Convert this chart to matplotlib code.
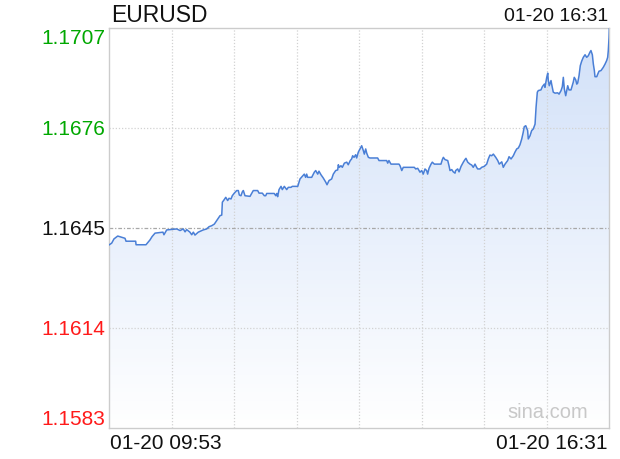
import matplotlib
matplotlib.use("Agg")
import matplotlib.pyplot as plt
import numpy as np
from matplotlib.ticker import FixedLocator

plt.rcParams['font.family'] = ['Liberation Sans', 'DejaVu Sans']

symbol = "EURUSD"
start_label = "01-20 09:53"
end_label = "01-20 16:31"
prev_close = 1.1645
y_ticks = [1.1583, 1.1614, 1.1645, 1.1676, 1.1707]
y_tick_labels = ["1.1583", "1.1614", "1.1645", "1.1676", "1.1707"]
total_minutes = 398

# minutes after 09:53
t_min = [
    0, 1.9, 3.7, 6.7, 9.3, 12.5, 13.3, 21.0, 21.3, 29.2, 32.4, 34.0, 36.4, 42.7, 43.5, 45.7,
    53.7, 56.3, 58.9, 60.3, 61.6, 64.2, 65.6, 66.9, 68.2, 70.8, 74.8, 77.5, 79.4, 81.5, 83.6,
    85.5, 88.1, 89.5, 90.0, 91.5, 92.7, 94.2, 95.3, 96.9, 97.9, 99.5, 101.4, 102.7, 103.5,
    104.8, 105.9, 106.7, 108.0, 112.0, 113.4, 114.6, 118.1, 119.2, 121.8, 123.4, 124.5, 125.3,
    131.3, 132.5, 133.3, 134.0, 135.1, 136.7, 137.7, 139.3, 141.2, 142.5, 144.6, 145.7, 150.0,
    151.8, 153.6, 155.2, 156.3, 157.1, 157.9, 161.1, 163.2, 164.3, 165.9, 166.9, 168.5, 170.3,
    172.3, 173.3, 174.9, 177.0, 178.3, 180.2, 181.8, 182.3, 183.1, 184.4, 185.5, 187.1, 189.0,
    190.2, 191.8, 192.9, 193.7, 194.8, 196.1, 196.9, 198.2, 199.6, 200.9, 202.2, 203.0, 204.1,
    204.9, 206.2, 207.5, 213.6, 214.7, 220.8, 221.6, 222.6, 224.2, 230.6, 231.4, 231.9, 232.8,
    234.0, 242.8, 243.9, 245.5, 247.3, 248.7, 249.9, 251.3, 252.6, 253.4, 254.5, 256.1, 257.1,
    258.7, 264.0, 265.1, 265.9, 267.2, 269.4, 270.4, 271.2, 272.6, 273.8, 275.2, 275.7, 277.3,
    278.4, 280.0, 281.8, 283.1, 283.9, 285.3, 287.1, 288.5, 289.7, 291.1, 292.4, 293.2, 295.1,
    296.4, 298.5, 300.4, 301.7, 303.0, 304.4, 305.7, 307.6, 309.2, 310.4, 312.4, 313.6, 315.0,
    317.1, 318.2, 319.8, 321.6, 322.9, 324.3, 325.6, 326.9, 328.3, 329.5, 330.3, 331.5, 333.0,
    333.5, 334.9, 336.2, 337.5, 338.9, 339.7, 340.7, 341.5, 343.6, 344.7, 346.3, 346.8, 348.2,
    349.0, 349.4, 350.2, 351.6, 352.1, 353.4, 354.8, 356.9, 358.0, 359.6, 360.6, 361.4, 362.2,
    363.3, 364.1, 364.9, 365.9, 367.5, 368.5, 369.3, 370.1, 371.3, 372.1, 372.8, 373.9, 374.9,
    376.0, 377.3, 378.7, 380.0, 381.3, 382.6, 383.4, 384.5, 385.3, 386.1, 386.6, 388.0, 388.8,
    389.8, 391.4, 393.2, 394.6, 395.9, 396.7, 397.2, 397.8, 398.0,
]
price = [
    1.16399, 1.16404, 1.16417, 1.16426, 1.16423, 1.16419, 1.16410, 1.16410, 1.16399, 1.16399,
    1.16414, 1.16424, 1.16435, 1.16438, 1.16430, 1.16445, 1.16448, 1.16443, 1.16448, 1.16439,
    1.16446, 1.16438, 1.16430, 1.16438, 1.16429, 1.16438, 1.16445, 1.16448, 1.16455, 1.16458,
    1.16463, 1.16474, 1.16489, 1.16491, 1.16531, 1.16539, 1.16546, 1.16536, 1.16543, 1.16541,
    1.16551, 1.16559, 1.16567, 1.16567, 1.16553, 1.16551, 1.16563, 1.16567, 1.16551, 1.16549,
    1.16559, 1.16567, 1.16567, 1.16559, 1.16559, 1.16551, 1.16551, 1.16558, 1.16558, 1.16551,
    1.16558, 1.16548, 1.16570, 1.16580, 1.16570, 1.16580, 1.16570, 1.16577, 1.16577, 1.16580,
    1.16580, 1.16603, 1.16611, 1.16618, 1.16608, 1.16618, 1.16608, 1.16608, 1.16624, 1.16629,
    1.16618, 1.16627, 1.16616, 1.16606, 1.16593, 1.16585, 1.16598, 1.16603, 1.16618, 1.16629,
    1.16631, 1.16647, 1.16639, 1.16644, 1.16639, 1.16652, 1.16655, 1.16647, 1.16660, 1.16665,
    1.16675, 1.16670, 1.16678, 1.16668, 1.16686, 1.16696, 1.16706, 1.16691, 1.16680, 1.16696,
    1.16683, 1.16670, 1.16668, 1.16668, 1.16660, 1.16660, 1.16652, 1.16660, 1.16649, 1.16649,
    1.16644, 1.16639, 1.16629, 1.16639, 1.16639, 1.16634, 1.16636, 1.16624, 1.16629, 1.16618,
    1.16634, 1.16629, 1.16618, 1.16636, 1.16649, 1.16655, 1.16649, 1.16649, 1.16663, 1.16670,
    1.16663, 1.16660, 1.16644, 1.16629, 1.16632, 1.16625, 1.16621, 1.16629, 1.16634, 1.16625,
    1.16642, 1.16655, 1.16663, 1.16667, 1.16655, 1.16649, 1.16646, 1.16639, 1.16649, 1.16639,
    1.16634, 1.16634, 1.16639, 1.16642, 1.16649, 1.16665, 1.16677, 1.16675, 1.16680, 1.16670,
    1.16660, 1.16649, 1.16656, 1.16639, 1.16649, 1.16660, 1.16672, 1.16665, 1.16675, 1.16686,
    1.16696, 1.16699, 1.16709, 1.16727, 1.16748, 1.16765, 1.16768, 1.16753, 1.16727, 1.16737,
    1.16753, 1.16758, 1.16773, 1.16825, 1.16872, 1.16877, 1.16879, 1.16889, 1.16897, 1.16887,
    1.16918, 1.16931, 1.16910, 1.16892, 1.16908, 1.16897, 1.16872, 1.16869, 1.16870, 1.16866,
    1.16877, 1.16889, 1.16918, 1.16882, 1.16861, 1.16877, 1.16892, 1.16879, 1.16879, 1.16892,
    1.16903, 1.16918, 1.16910, 1.16897, 1.16900, 1.16923, 1.16954, 1.16968, 1.16980, 1.16988,
    1.16980, 1.16985, 1.16996, 1.17001, 1.16988, 1.16959, 1.16939, 1.16920, 1.16920, 1.16928,
    1.16937, 1.16939, 1.16949, 1.16959, 1.16970, 1.16980, 1.17001, 1.17042, 1.17068,
]

W, H = 620, 460
fig = plt.figure(figsize=(W / 100, H / 100), dpi=100)
ax = fig.add_axes([109.3 / W, 1 - 429.3 / H, 500 / W, 400 / H])
ymin, ymax = y_ticks[0], y_ticks[-1]
ax.set_xlim(0, total_minutes)
ax.set_ylim(ymin, ymax)

# gradient fill under line
grad = np.linspace(0, 1, 256).reshape(-1, 1)
top_c = np.array([0.82, 0.88, 0.975])
bot_c = np.array([1.0, 1.0, 1.0])
img = top_c[None, None, :] * (1 - grad[:, :, None]) + bot_c[None, None, :] * grad[:, :, None]
im = ax.imshow(img, extent=[0, total_minutes, ymin, ymax], origin='upper', aspect='auto', zorder=1)
poly = ax.fill_between(t_min, price, ymin, facecolor='none', edgecolor='none')
clip = poly.get_paths()[0]
from matplotlib.patches import PathPatch
patch = PathPatch(clip, transform=ax.transData, facecolor='none', edgecolor='none')
ax.add_patch(patch)
im.set_clip_path(patch)

ax.plot(t_min, price, color='#4a7fd6', lw=1.1, zorder=4, solid_joinstyle='round')

# grid
for i in range(1, 8):
    ax.axvline(total_minutes * i / 8, color='#d2d2d2', lw=0.9, ls=(0, (1, 1.5)), zorder=2)
for v in [y_ticks[1], y_ticks[3]]:
    ax.axhline(v, color='#d2d2d2', lw=0.9, ls=(0, (1, 1.5)), zorder=2)
ax.axhline(prev_close, color='#a8a8a8', lw=0.9, ls=(0, (3, 1.5, 1, 1.5)), zorder=2)

for s in ax.spines.values():
    s.set_color('#cccccc')
    s.set_linewidth(1.0)
ax.set_xticks([])
ax.set_yticks([])

# y labels
colors = ['#ff1a1a', '#ff1a1a', '#111111', '#00a800', '#00a800']
vas = ['bottom', 'center', 'center', 'center', 'top']
for v, lab, c, va in zip(y_ticks, y_tick_labels, colors, vas):
    yy = v
    ax.text(-4 / 500 * total_minutes, yy, lab, color=c, fontsize=15, ha='right', va=va,
            transform=ax.transData, clip_on=False)

fig.text(111 / W, 1 - 4 / H, symbol, fontsize=16.5, ha='left', va='top', color='#111111')
fig.text(608 / W, 1 - 8 / H, end_label, fontsize=14, ha='right', va='top', color='#111111')
fig.text(110 / W, 1 - 434 / H, start_label, fontsize=15, ha='left', va='top', color='#111111')
fig.text(608 / W, 1 - 434 / H, end_label, fontsize=15, ha='right', va='top', color='#111111')
fig.text(548 / W, 1 - 412 / H, "sina.com", fontsize=14.5, ha='center', va='center', color='#c8c8c8')

fig.savefig("out.png", dpi=100)
